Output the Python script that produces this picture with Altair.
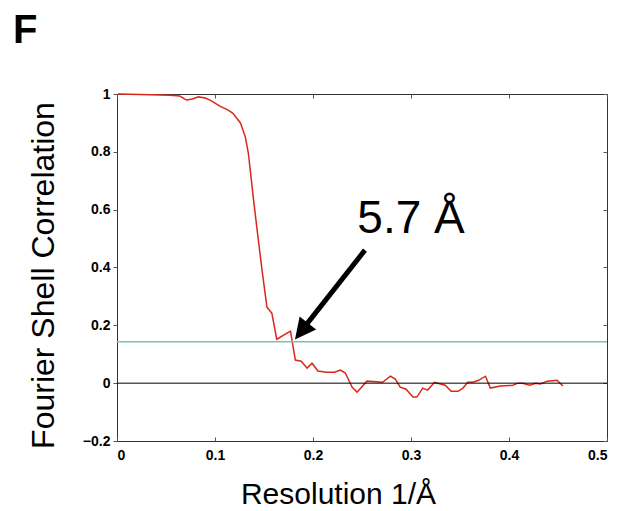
import altair as alt
import pandas as pd

# FSC curve
res = [0.001, 0.013, 0.034, 0.054, 0.064, 0.071, 0.077, 0.083, 0.090, 0.095,
       0.105, 0.113, 0.118, 0.126, 0.131, 0.134, 0.136, 0.139, 0.143, 0.148,
       0.153, 0.158, 0.163, 0.177, 0.182, 0.188, 0.194, 0.199, 0.205, 0.214,
       0.222, 0.228, 0.233, 0.240, 0.245, 0.255, 0.271, 0.279, 0.284, 0.289,
       0.295, 0.302, 0.306, 0.312, 0.317, 0.324, 0.330, 0.335, 0.341, 0.348,
       0.353, 0.358, 0.363, 0.369, 0.376, 0.381, 0.391, 0.404, 0.409, 0.414,
       0.421, 0.427, 0.432, 0.439, 0.449, 0.455]
fsc = [1.000, 0.999, 0.997, 0.996, 0.993, 0.979, 0.983, 0.990, 0.986, 0.979,
       0.958, 0.945, 0.934, 0.900, 0.851, 0.796, 0.737, 0.644, 0.529, 0.391,
       0.263, 0.242, 0.152, 0.180, 0.080, 0.076, 0.052, 0.069, 0.042, 0.038,
       0.038, 0.045, 0.035, -0.014, -0.031, 0.007, 0.003, 0.024, 0.014, -0.014,
       -0.021, -0.048, -0.048, -0.017, -0.024, 0.003, -0.003, -0.007, -0.028, -0.028,
       -0.017, 0.003, 0.003, 0.010, 0.024, -0.017, -0.010, -0.007, 0.000, 0.000,
       -0.007, 0.000, -0.003, 0.007, 0.010, -0.010]

zero_level = [0.0]
threshold = [0.143]

x_ticks = [0, 0.1, 0.2, 0.3, 0.4, 0.5]
y_ticks = [-0.2, 0, 0.2, 0.4, 0.6, 0.8, 1.0]

# annotation
arrow_tail = [0.253, 0.460]
arrow_neck = [0.191, 0.193]
arrow_tip = [0.1816, 0.151]
label_pos = [0.300, 0.519]
label_text = ["5.7 Å"]
panel_letter = ["F"]

FONT = "Liberation Sans"

xs = alt.Scale(domain=[0, 0.5], nice=False, zero=False)
ys = alt.Scale(domain=[-0.2, 1.0], nice=False, zero=False)

curve_df = pd.DataFrame({"res": res, "fsc": fsc})
zero_df = pd.DataFrame({"y": zero_level})
thr_df = pd.DataFrame({"y": threshold})
shaft_df = pd.DataFrame({"x": [arrow_tail[0]], "y": [arrow_tail[1]],
                         "x2": [arrow_neck[0]], "y2": [arrow_neck[1]]})
head_df = pd.DataFrame({"x": [arrow_tip[0]], "y": [arrow_tip[1]]})
label_df = pd.DataFrame({"x": [label_pos[0]], "y": [label_pos[1]], "t": label_text})
letter_df = pd.DataFrame({"t": panel_letter})

lab_common = dict(labelFont=FONT, labelFontWeight="bold", labelFontSize=14,
                  labelColor="black", domain=False, grid=False, format="~g")
tick_common = dict(labels=False, domain=False, grid=False, tickSize=4,
                   tickColor="#555", tickWidth=1, offset=-4, title=None)

x_label_axis = alt.Axis(values=x_ticks, ticks=False, labelPadding=7,
                        title="Resolution 1/Å", titleFont=FONT, titleFontSize=30,
                        titleFontWeight="normal", titleColor="black",
                        titleX=221, titleY=62, titleBaseline="alphabetic",
                        titleAlign="center", **lab_common)
y_label_axis = alt.Axis(values=y_ticks, ticks=True, tickSize=4, tickColor="#555",
                        tickWidth=1, labelPadding=3,
                        title="Fourier Shell Correlation", titleFont=FONT,
                        titleFontSize=32, titleFontWeight="normal", titleColor="black",
                        titleAngle=270, titleX=-64, titleY=181,
                        titleBaseline="alphabetic", titleAlign="center", **lab_common)

curve = alt.Chart(curve_df).mark_line(color="#d9281a", strokeWidth=1.5).encode(
    x=alt.X("res:Q", scale=xs, axis=x_label_axis),
    y=alt.Y("fsc:Q", scale=ys, axis=y_label_axis),
)

zero_rule = alt.Chart(zero_df).mark_rule(color="black", strokeWidth=1).encode(
    y=alt.Y("y:Q", scale=ys, axis=None)
)
thr_rule = alt.Chart(thr_df).mark_rule(color="#72c4ba", strokeWidth=1.5).encode(
    y=alt.Y("y:Q", scale=ys, axis=None)
)

shaft = alt.Chart(shaft_df).mark_rule(color="black", strokeWidth=5, strokeCap="butt").encode(
    x=alt.X("x:Q", scale=xs, axis=alt.Axis(values=x_ticks, orient="bottom", **tick_common)),
    y=alt.Y("y:Q", scale=ys, axis=None),
    x2="x2:Q", y2="y2:Q",
)

head = alt.Chart(head_df).mark_point(
    shape="M0,0 L-0.5,1 L0.5,1 Z", filled=True, color="black", opacity=1,
    size=1764, angle=218, strokeWidth=0,
).encode(
    x=alt.X("x:Q", scale=xs, axis=alt.Axis(values=x_ticks, orient="top", **tick_common)),
    y=alt.Y("y:Q", scale=ys, axis=alt.Axis(values=y_ticks, orient="right", **tick_common)),
)

label = alt.Chart(label_df).mark_text(
    font=FONT, fontSize=46, align="center", baseline="alphabetic", color="black"
).encode(
    x=alt.X("x:Q", scale=xs, axis=None),
    y=alt.Y("y:Q", scale=ys, axis=None),
    text="t:N",
)

letter = alt.Chart(letter_df).mark_text(
    font=FONT, fontSize=40, fontWeight="bold", align="left", baseline="alphabetic",
    color="black"
).encode(x=alt.value(-104), y=alt.value(-51), text="t:N")

chart = alt.layer(curve, zero_rule, thr_rule, shaft, head, label, letter).resolve_axis(
    x="independent", y="independent"
).properties(
    width=490, height=347,
    autosize=alt.AutoSizeParams(type="none"),
    padding={"left": 109, "top": 86, "right": 17, "bottom": 68},
).configure_view(stroke="#333", strokeWidth=1)

chart.save("out.html", embed_options={"renderer": "svg", "actions": False})
